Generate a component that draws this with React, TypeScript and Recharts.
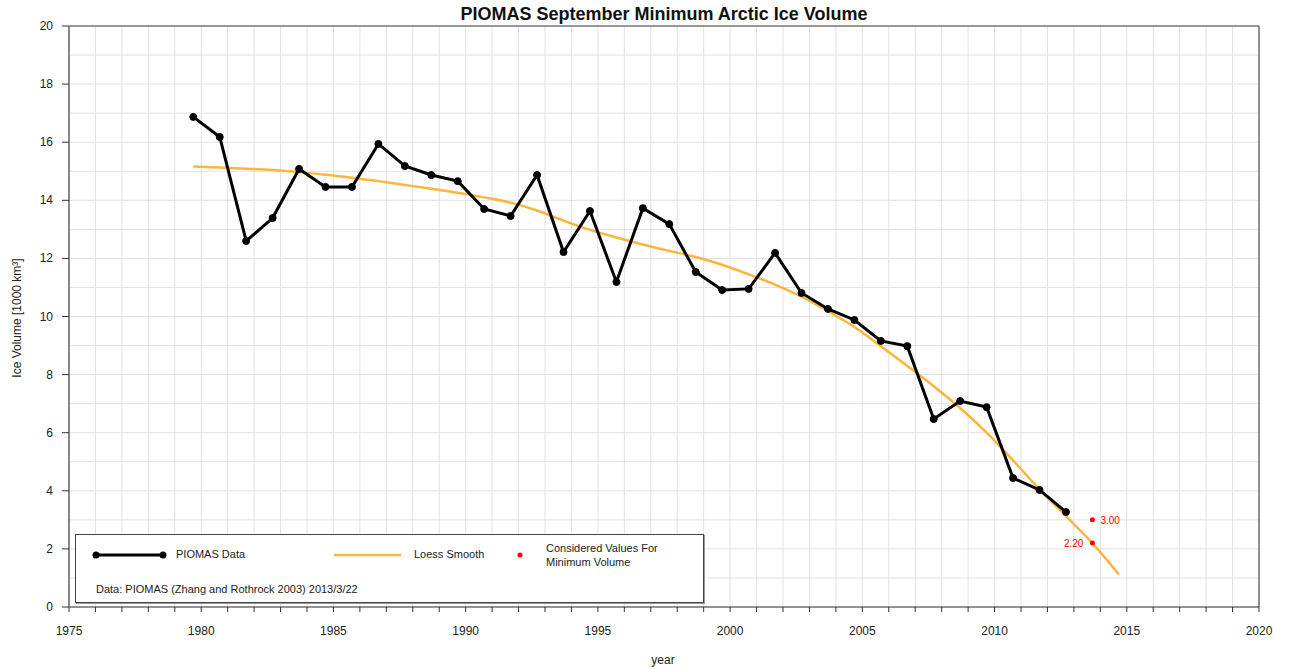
import React from 'react'
import {
  ComposedChart,
  Line,
  Scatter,
  XAxis,
  YAxis,
  CartesianGrid,
  ReferenceLine,
} from 'recharts'

// September minima, plotted at fractional year (mid-September)
const years = [
  1979.7, 1980.7, 1981.7, 1982.7, 1983.7, 1984.7, 1985.7, 1986.7, 1987.7, 1988.7,
  1989.7, 1990.7, 1991.7, 1992.7, 1993.7, 1994.7, 1995.7, 1996.7, 1997.7, 1998.7,
  1999.7, 2000.7, 2001.7, 2002.7, 2003.7, 2004.7, 2005.7, 2006.7, 2007.7, 2008.7,
  2009.7, 2010.7, 2011.7, 2012.7,
]
const piomas = [
  16.87, 16.18, 12.6, 13.39, 15.08, 14.46, 14.46, 15.94, 15.18, 14.87,
  14.66, 13.7, 13.46, 14.87, 12.22, 13.63, 11.19, 13.73, 13.18, 11.53,
  10.91, 10.95, 12.19, 10.81, 10.26, 9.88, 9.16, 8.98, 6.47, 7.09,
  6.88, 4.44, 4.03, 3.27,
]

const loessYears = [
  1979.7, 1980.7, 1981.7, 1982.7, 1983.7, 1984.7, 1985.7, 1986.7, 1987.7, 1988.7,
  1989.7, 1990.7, 1991.7, 1992.7, 1993.7, 1994.7, 1995.7, 1996.7, 1997.7, 1998.7,
  1999.7, 2000.7, 2001.7, 2002.7, 2003.7, 2004.7, 2005.7, 2006.7, 2007.7, 2008.7,
  2009.7, 2010.7, 2011.7, 2012.7, 2013.7, 2014.7,
]
const loess = [
  15.16, 15.13, 15.09, 15.04, 14.97, 14.88, 14.78, 14.66, 14.53, 14.4,
  14.26, 14.1, 13.92, 13.65, 13.3, 12.98, 12.72, 12.48, 12.26, 12.05,
  11.78, 11.45, 11.1, 10.68, 10.18, 9.64, 8.98, 8.3, 7.6, 6.85,
  6.0, 5.05, 4.05, 3.13, 2.2, 1.12,
]

const consideredYears = [2013.7, 2013.7]
const considered = [3.0, 2.2]

const xTicks = [
  1975, 1976, 1977, 1978, 1979, 1980, 1981, 1982, 1983, 1984, 1985, 1986, 1987, 1988,
  1989, 1990, 1991, 1992, 1993, 1994, 1995, 1996, 1997, 1998, 1999, 2000, 2001, 2002,
  2003, 2004, 2005, 2006, 2007, 2008, 2009, 2010, 2011, 2012, 2013, 2014, 2015, 2016,
  2017, 2018, 2019, 2020,
]
const yTicks = [0, 1, 2, 3, 4, 5, 6, 7, 8, 9, 10, 11, 12, 13, 14, 15, 16, 17, 18, 19, 20]

const font = '"Liberation Sans", Arial, Helvetica, sans-serif'

const piomasData = years.map((x, i) => ({ x, y: piomas[i] }))
const loessData = loessYears.map((x, i) => ({ x, y: loess[i] }))
const consideredData = consideredYears.map((x, i) => ({ x, y: considered[i] }))

function XTick({ x, y, payload }: any) {
  const v = payload.value
  return (
    <g>
      <line x1={x} x2={x} y1={y} y2={y + 5} stroke="#333" />
      {v % 5 === 0 && (
        <text x={x} y={y + 28} textAnchor="middle" fontSize={12} fill="#222" fontFamily={font}>
          {v}
        </text>
      )}
    </g>
  )
}

function LeftTick({ x, y, payload }: any) {
  const v = payload.value
  if (v % 2 !== 0) return <g />
  return (
    <g>
      <line x1={x - 7} x2={x} y1={y} y2={y} stroke="#333" />
      <text x={x - 16} y={y + 4} textAnchor="end" fontSize={12} fill="#222" fontFamily={font}>
        {v}
      </text>
    </g>
  )
}

function RightTick({ x, y, payload }: any) {
  const v = payload.value
  if (v % 2 !== 0) return <g />
  return (
    <g>
      <line x1={x} x2={x + 7} y1={y} y2={y} stroke="#333" />
      <text x={x + 16} y={y + 4} textAnchor="start" fontSize={12} fill="#222" fontFamily={font}>
        {v}
      </text>
    </g>
  )
}

function RedPoint({ cx, cy, payload }: any) {
  const upper = payload.y === Math.max(...considered)
  return (
    <g>
      <circle cx={cx} cy={cy} r={2.5} fill="#ff0000" />
      <text
        x={upper ? cx + 8 : cx - 9}
        y={cy + 4}
        textAnchor={upper ? 'start' : 'end'}
        fontSize={10}
        fill="#ff0000"
        fontFamily={font}
      >
        {payload.y.toFixed(2)}
      </text>
    </g>
  )
}

export default function App() {
  return (
    <div
      style={{
        position: 'absolute',
        left: 0,
        top: 0,
        width: 1296,
        height: 669,
        background: '#fff',
        fontFamily: font,
      }}
    >
      <ComposedChart
        width={1296}
        height={669}
        margin={{ top: 26, right: 0, bottom: 32, left: 29 }}
      >
        <CartesianGrid stroke="#e2e2e2" strokeWidth={1} />
        <XAxis
          type="number"
          dataKey="x"
          domain={[1975, 2020]}
          ticks={xTicks}
          interval={0}
          height={30}
          tickSize={0}
          tickMargin={0}
          tickLine={false}
          tick={<XTick />}
          axisLine={{ stroke: '#333', strokeWidth: 1 }}
          allowDataOverflow
        />
        <YAxis
          yAxisId={0}
          type="number"
          dataKey="y"
          domain={[0, 20]}
          ticks={yTicks}
          interval={0}
          width={40}
          tickSize={0}
          tickMargin={0}
          tickLine={false}
          tick={<LeftTick />}
          axisLine={{ stroke: '#888', strokeWidth: 2 }}
        />
        <YAxis
          yAxisId="right"
          orientation="right"
          type="number"
          domain={[0, 20]}
          ticks={yTicks}
          interval={0}
          width={37}
          tickSize={0}
          tickMargin={0}
          tickLine={false}
          tick={<RightTick />}
          axisLine={{ stroke: '#333', strokeWidth: 1 }}
        />
        <ReferenceLine y={20} stroke="#999" strokeWidth={2} />
        <Line
          data={loessData}
          dataKey="y"
          type="monotone"
          stroke="#fdb53d"
          strokeWidth={2.5}
          dot={false}
          isAnimationActive={false}
        />
        <Line
          data={piomasData}
          dataKey="y"
          type="linear"
          stroke="#000"
          strokeWidth={3}
          dot={{ r: 3.5, fill: '#000', stroke: '#000', strokeWidth: 1 }}
          isAnimationActive={false}
        />
        <Scatter data={consideredData} dataKey="y" shape={<RedPoint />} isAnimationActive={false} />
      </ComposedChart>

      <div
        style={{
          position: 'absolute',
          left: 0,
          top: 4,
          width: 1328,
          textAlign: 'center',
          fontSize: 18,
          fontWeight: 'bold',
          color: '#111',
        }}
      >
        PIOMAS September Minimum Arctic Ice Volume
      </div>
      <div
        style={{
          position: 'absolute',
          left: 0,
          top: 653,
          width: 1326,
          textAlign: 'center',
          fontSize: 12,
          color: '#222',
        }}
      >
        year
      </div>
      <div
        style={{
          position: 'absolute',
          left: 17,
          top: 318,
          transform: 'translate(-50%, -50%) rotate(-90deg)',
          whiteSpace: 'nowrap',
          fontSize: 12,
          color: '#222',
        }}
      >
        Ice Volume [1000 km³]
      </div>

      <div
        style={{
          position: 'absolute',
          left: 75,
          top: 534,
          width: 627,
          height: 67,
          border: '1px solid #444',
          boxShadow: '1px 1px 0 #999',
          background: '#fff',
          fontSize: 11,
          color: '#222',
        }}
      >
        <svg width={627} height={67} style={{ position: 'absolute', left: 0, top: 0 }}>
          <line x1={20} x2={87} y1={20} y2={20} stroke="#000" strokeWidth={3} />
          <circle cx={20} cy={20} r={3.5} fill="#000" />
          <circle cx={87} cy={20} r={3.5} fill="#000" />
          <line x1={258} x2={325} y1={20} y2={20} stroke="#fdb53d" strokeWidth={2.5} />
          <circle cx={444} cy={20} r={2.5} fill="#ff0000" />
        </svg>
        <div style={{ position: 'absolute', left: 100, top: 13 }}>PIOMAS Data</div>
        <div style={{ position: 'absolute', left: 338, top: 13 }}>Loess Smooth</div>
        <div style={{ position: 'absolute', left: 470, top: 6, lineHeight: '14px' }}>
          Considered Values For
          <br />
          Minimum Volume
        </div>
        <div style={{ position: 'absolute', left: 20, top: 48 }}>
          Data: PIOMAS (Zhang and Rothrock 2003) 2013/3/22
        </div>
      </div>
    </div>
  )
}
